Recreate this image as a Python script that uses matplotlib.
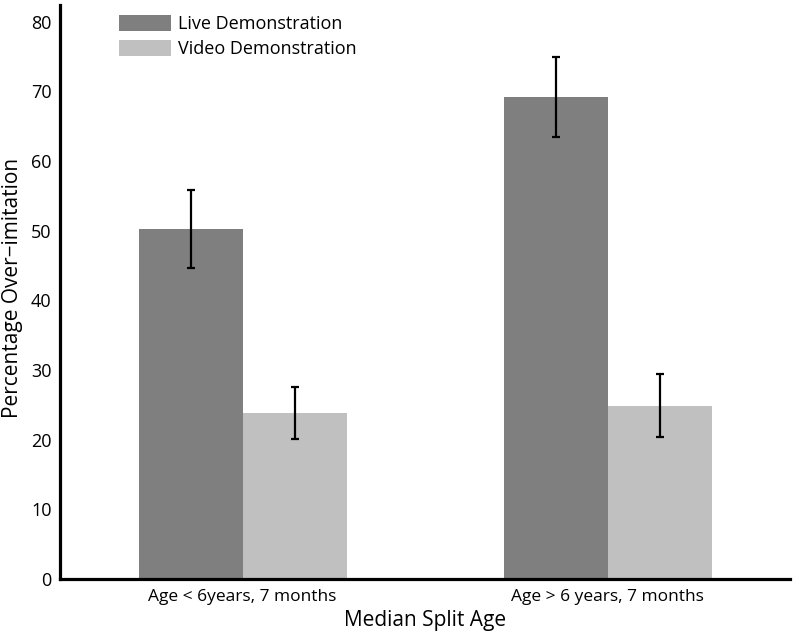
import matplotlib
matplotlib.use("Agg")
import matplotlib.pyplot as plt
import numpy as np

plt.rcParams['font.family'] = ['Open Sans', 'DejaVu Sans']

# data
groups = ["Age < 6years, 7 months", "Age > 6 years, 7 months"]
live = [50.2, 69.2]
live_err = [5.6, 5.7]
video = [23.8, 24.9]
video_err = [3.7, 4.5]

x = np.arange(len(groups))
w = 0.285

fig = plt.figure(figsize=(7.94, 6.37), dpi=100)
ax = fig.add_axes([0.0756, 0.091, 0.9194, 0.901])

ax.bar(x - w / 2, live, w, color="#7f7f7f", label="Live Demonstration",
       yerr=live_err, error_kw=dict(ecolor="black", elinewidth=1.6, capsize=3, capthick=1.6))
ax.bar(x + w / 2, video, w, color="#c0c0c0", label="Video Demonstration",
       yerr=video_err, error_kw=dict(ecolor="black", elinewidth=1.6, capsize=3, capthick=1.6))

ax.set_xlim(-0.5, 1.5)
ax.set_ylim(0, 82.4)
ax.set_yticks(range(0, 81, 10))
ax.set_xticks(x)
ax.set_xticklabels(groups, fontsize=12.5)
ax.tick_params(axis="y", length=0, pad=6, labelsize=13)
ax.tick_params(axis="x", length=0, pad=7)

for s in ["top", "right"]:
    ax.spines[s].set_visible(False)
for s in ["left", "bottom"]:
    ax.spines[s].set_linewidth(2.3)

ax.set_xlabel("Median Split Age", fontsize=15, labelpad=4)
ax.set_ylabel("Percentage Over\u2212imitation", fontsize=15)
ax.yaxis.set_label_coords(-0.051, 0.508)

ax.legend(loc="upper left", bbox_to_anchor=(0.071, 0.996), frameon=False, fontsize=13,
          handlelength=2.9, handleheight=1.0, handletextpad=0.35, labelspacing=0.4,
          borderaxespad=0)

fig.savefig("out.png", dpi=100)
